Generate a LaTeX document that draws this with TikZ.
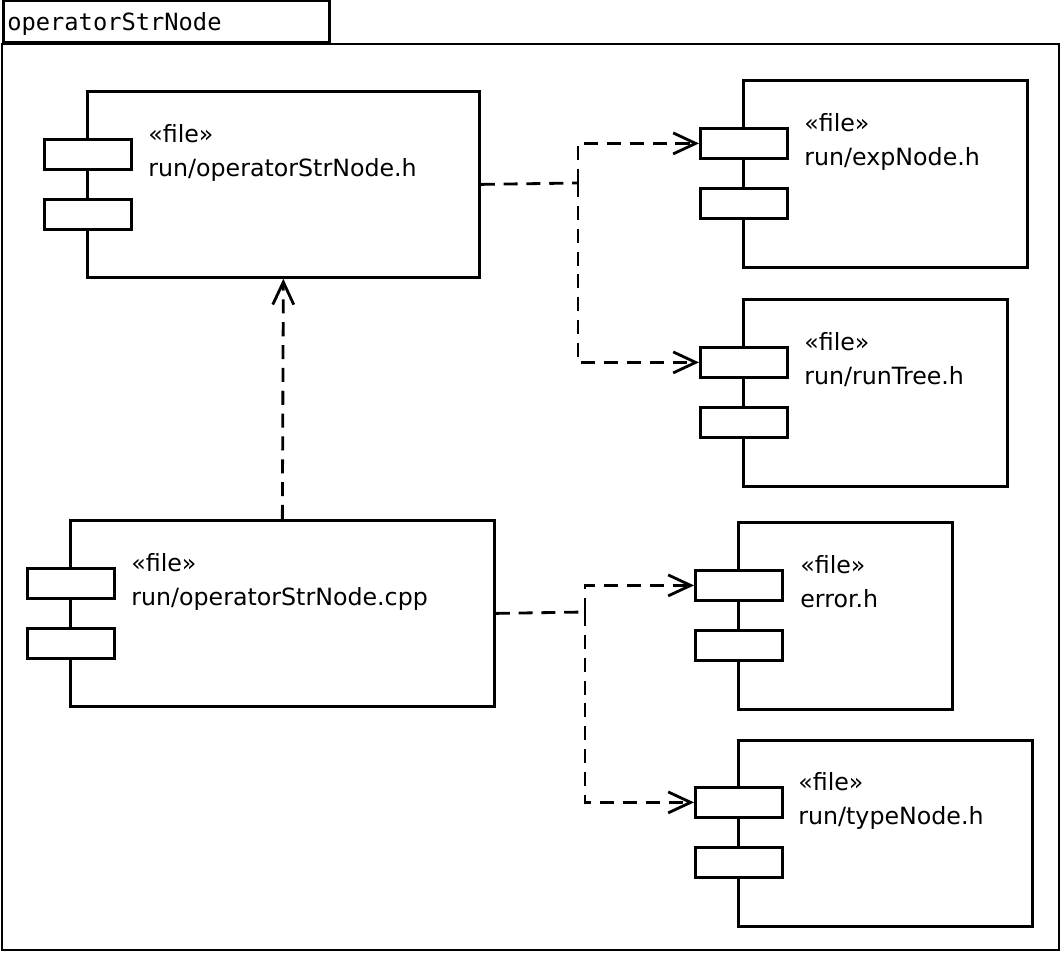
\documentclass[tikz,border=0pt]{standalone}
\usepackage{fontspec}
\setmainfont{DejaVu Sans}
\newfontfamily\monofont{DejaVu Sans Mono}
\usetikzlibrary{arrows.meta}
\begin{document}
\begin{tikzpicture}[x=0.02cm,y=-0.02cm]
\tikzstyle{frame} = [draw,line width=1.6pt,inner sep=0pt];
\tikzstyle{body} = [frame,anchor=north west];
\tikzstyle{tab} = [frame,fill=white,anchor=north west,minimum width=1.74cm,minimum height=0.6cm];
\tikzstyle{label} = [anchor=north west,align=left,inner sep=0pt,font=\fontsize{13.5pt}{19.3pt}\selectfont];
\tikzstyle{dep} = [line width=1.6pt,dash pattern=on 8pt off 5pt,-{Straight Barb[length=0.45cm,width=0.42cm,line width=1.6pt]}];
\tikzstyle{line} = [line width=1.6pt,dash pattern=on 8pt off 5pt];

\useasboundingbox (0,0) rectangle (1063,954);
% package
\draw [line width=1.6pt] (2,44) rectangle (1059,950);
\node [frame,anchor=south west,minimum width=6.52cm,minimum height=0.84cm] (pkg) at (2,44) {};
\node [anchor=west,inner sep=0pt,font=\monofont\fontsize{13.5pt}{16pt}\selectfont] (pkgname) at (7,24) {operatorStrNode};

% components
\node [body,minimum width=7.84cm,minimum height=3.72cm] (hdr) at (86,90) {};
\node [tab] (hdr1) at (43,138) {};
\node [tab] (hdr2) at (43,198) {};
\node [label] (hdrtxt) at (148,124) {<<file>>\\run/operatorStrNode.h};

\node [body,minimum width=5.68cm,minimum height=3.74cm] (exp) at (742,79) {};
\node [tab] (exp1) at (699,127) {};
\node [tab] (exp2) at (699,187) {};
\node [label] (exptxt) at (804,113) {<<file>>\\run/expNode.h};

\node [body,minimum width=5.28cm,minimum height=3.74cm] (tree) at (742,298) {};
\node [tab] (tree1) at (699,346) {};
\node [tab] (tree2) at (699,406) {};
\node [label] (treetxt) at (804,332) {<<file>>\\run/runTree.h};

\node [body,minimum width=8.48cm,minimum height=3.72cm] (cpp) at (69,519) {};
\node [tab] (cpp1) at (26,567) {};
\node [tab] (cpp2) at (26,627) {};
\node [label] (cpptxt) at (131,553) {<<file>>\\run/operatorStrNode.cpp};

\node [body,minimum width=4.28cm,minimum height=3.74cm] (err) at (737,521) {};
\node [tab] (err1) at (694,569) {};
\node [tab] (err2) at (694,629) {};
\node [label] (errtxt) at (800,555) {<<file>>\\error.h};

\node [body,minimum width=5.88cm,minimum height=3.72cm] (type) at (737,739) {};
\node [tab] (type1) at (694,786) {};
\node [tab] (type2) at (694,846) {};
\node [label] (typetxt) at (798,772) {<<file>>\\run/typeNode.h};

% dependencies
\coordinate (hsplit) at (578,183);
\coordinate (csplit) at (585,612);
\draw [line] (hdr.east) -- (hsplit);
\draw [dep] (hsplit) |- (exp1.west);
\draw [dep] (hsplit) |- (tree1.west);
\draw [line] (cpp.east) -- (csplit);
\draw [dep] (csplit) |- (err1.west);
\draw [dep] (csplit) |- (type1.west);
\draw [dep] (cpp.north) -- (hdr.south);
\end{tikzpicture}
\end{document}
